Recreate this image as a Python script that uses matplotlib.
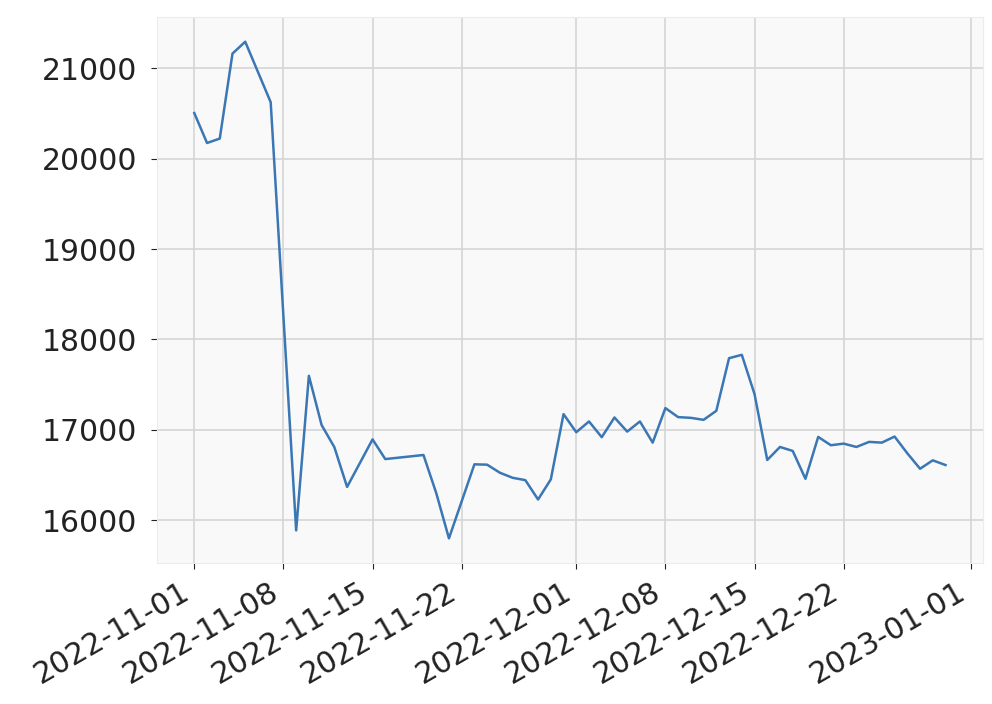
import matplotlib
matplotlib.use("Agg")
import matplotlib.pyplot as plt
import pandas as pd

# daily values (days without a visible vertex are left out)
dates = ["2022-11-01", "2022-11-02", "2022-11-03", "2022-11-04", "2022-11-05",
         "2022-11-07", "2022-11-09", "2022-11-10", "2022-11-11", "2022-11-12",
         "2022-11-13", "2022-11-15", "2022-11-16", "2022-11-19", "2022-11-20",
         "2022-11-21", "2022-11-23", "2022-11-24", "2022-11-25", "2022-11-26",
         "2022-11-27", "2022-11-28", "2022-11-29", "2022-11-30", "2022-12-01",
         "2022-12-02", "2022-12-03", "2022-12-04", "2022-12-05", "2022-12-06",
         "2022-12-07", "2022-12-08", "2022-12-09", "2022-12-10", "2022-12-11",
         "2022-12-12", "2022-12-13", "2022-12-14", "2022-12-15", "2022-12-16",
         "2022-12-17", "2022-12-18", "2022-12-19", "2022-12-20", "2022-12-21",
         "2022-12-22", "2022-12-23", "2022-12-24", "2022-12-25", "2022-12-26",
         "2022-12-27", "2022-12-28", "2022-12-29", "2022-12-30"]
values = [20504, 20173, 20222, 21162, 21293,
          20624, 15888, 17598, 17053, 16809,
          16369, 16895, 16677, 16722, 16302,
          15800, 16619, 16615, 16526, 16470,
          16444, 16230, 16452, 17174, 16974,
          17093, 16919, 17137, 16981, 17093,
          16859, 17241, 17141, 17133, 17111,
          17211, 17793, 17830, 17396, 16667,
          16811, 16767, 16459, 16922, 16830,
          16848, 16811, 16867, 16859, 16926,
          16741, 16570, 16663, 16611]

x = pd.to_datetime(dates)

fig, ax = plt.subplots(figsize=(9.92, 7.04), dpi=100)
fig.subplots_adjust(left=0.158, right=0.991, top=0.976, bottom=0.203)

ax.set_facecolor("#f9f9f9")
for s in ax.spines.values():
    s.set_color("#ececec")
ax.grid(True, color="#d6d6d6", linewidth=1.2)
ax.set_axisbelow(True)

ax.plot(x, values, color="#3a77b4", linewidth=1.8)

ax.tick_params(labelsize=21.5, length=4, color="#222222", labelcolor="#222222")
ax.tick_params(axis="y", pad=10)
ax.tick_params(axis="x", pad=6)
fig.autofmt_xdate()

plt.savefig("out.png")
